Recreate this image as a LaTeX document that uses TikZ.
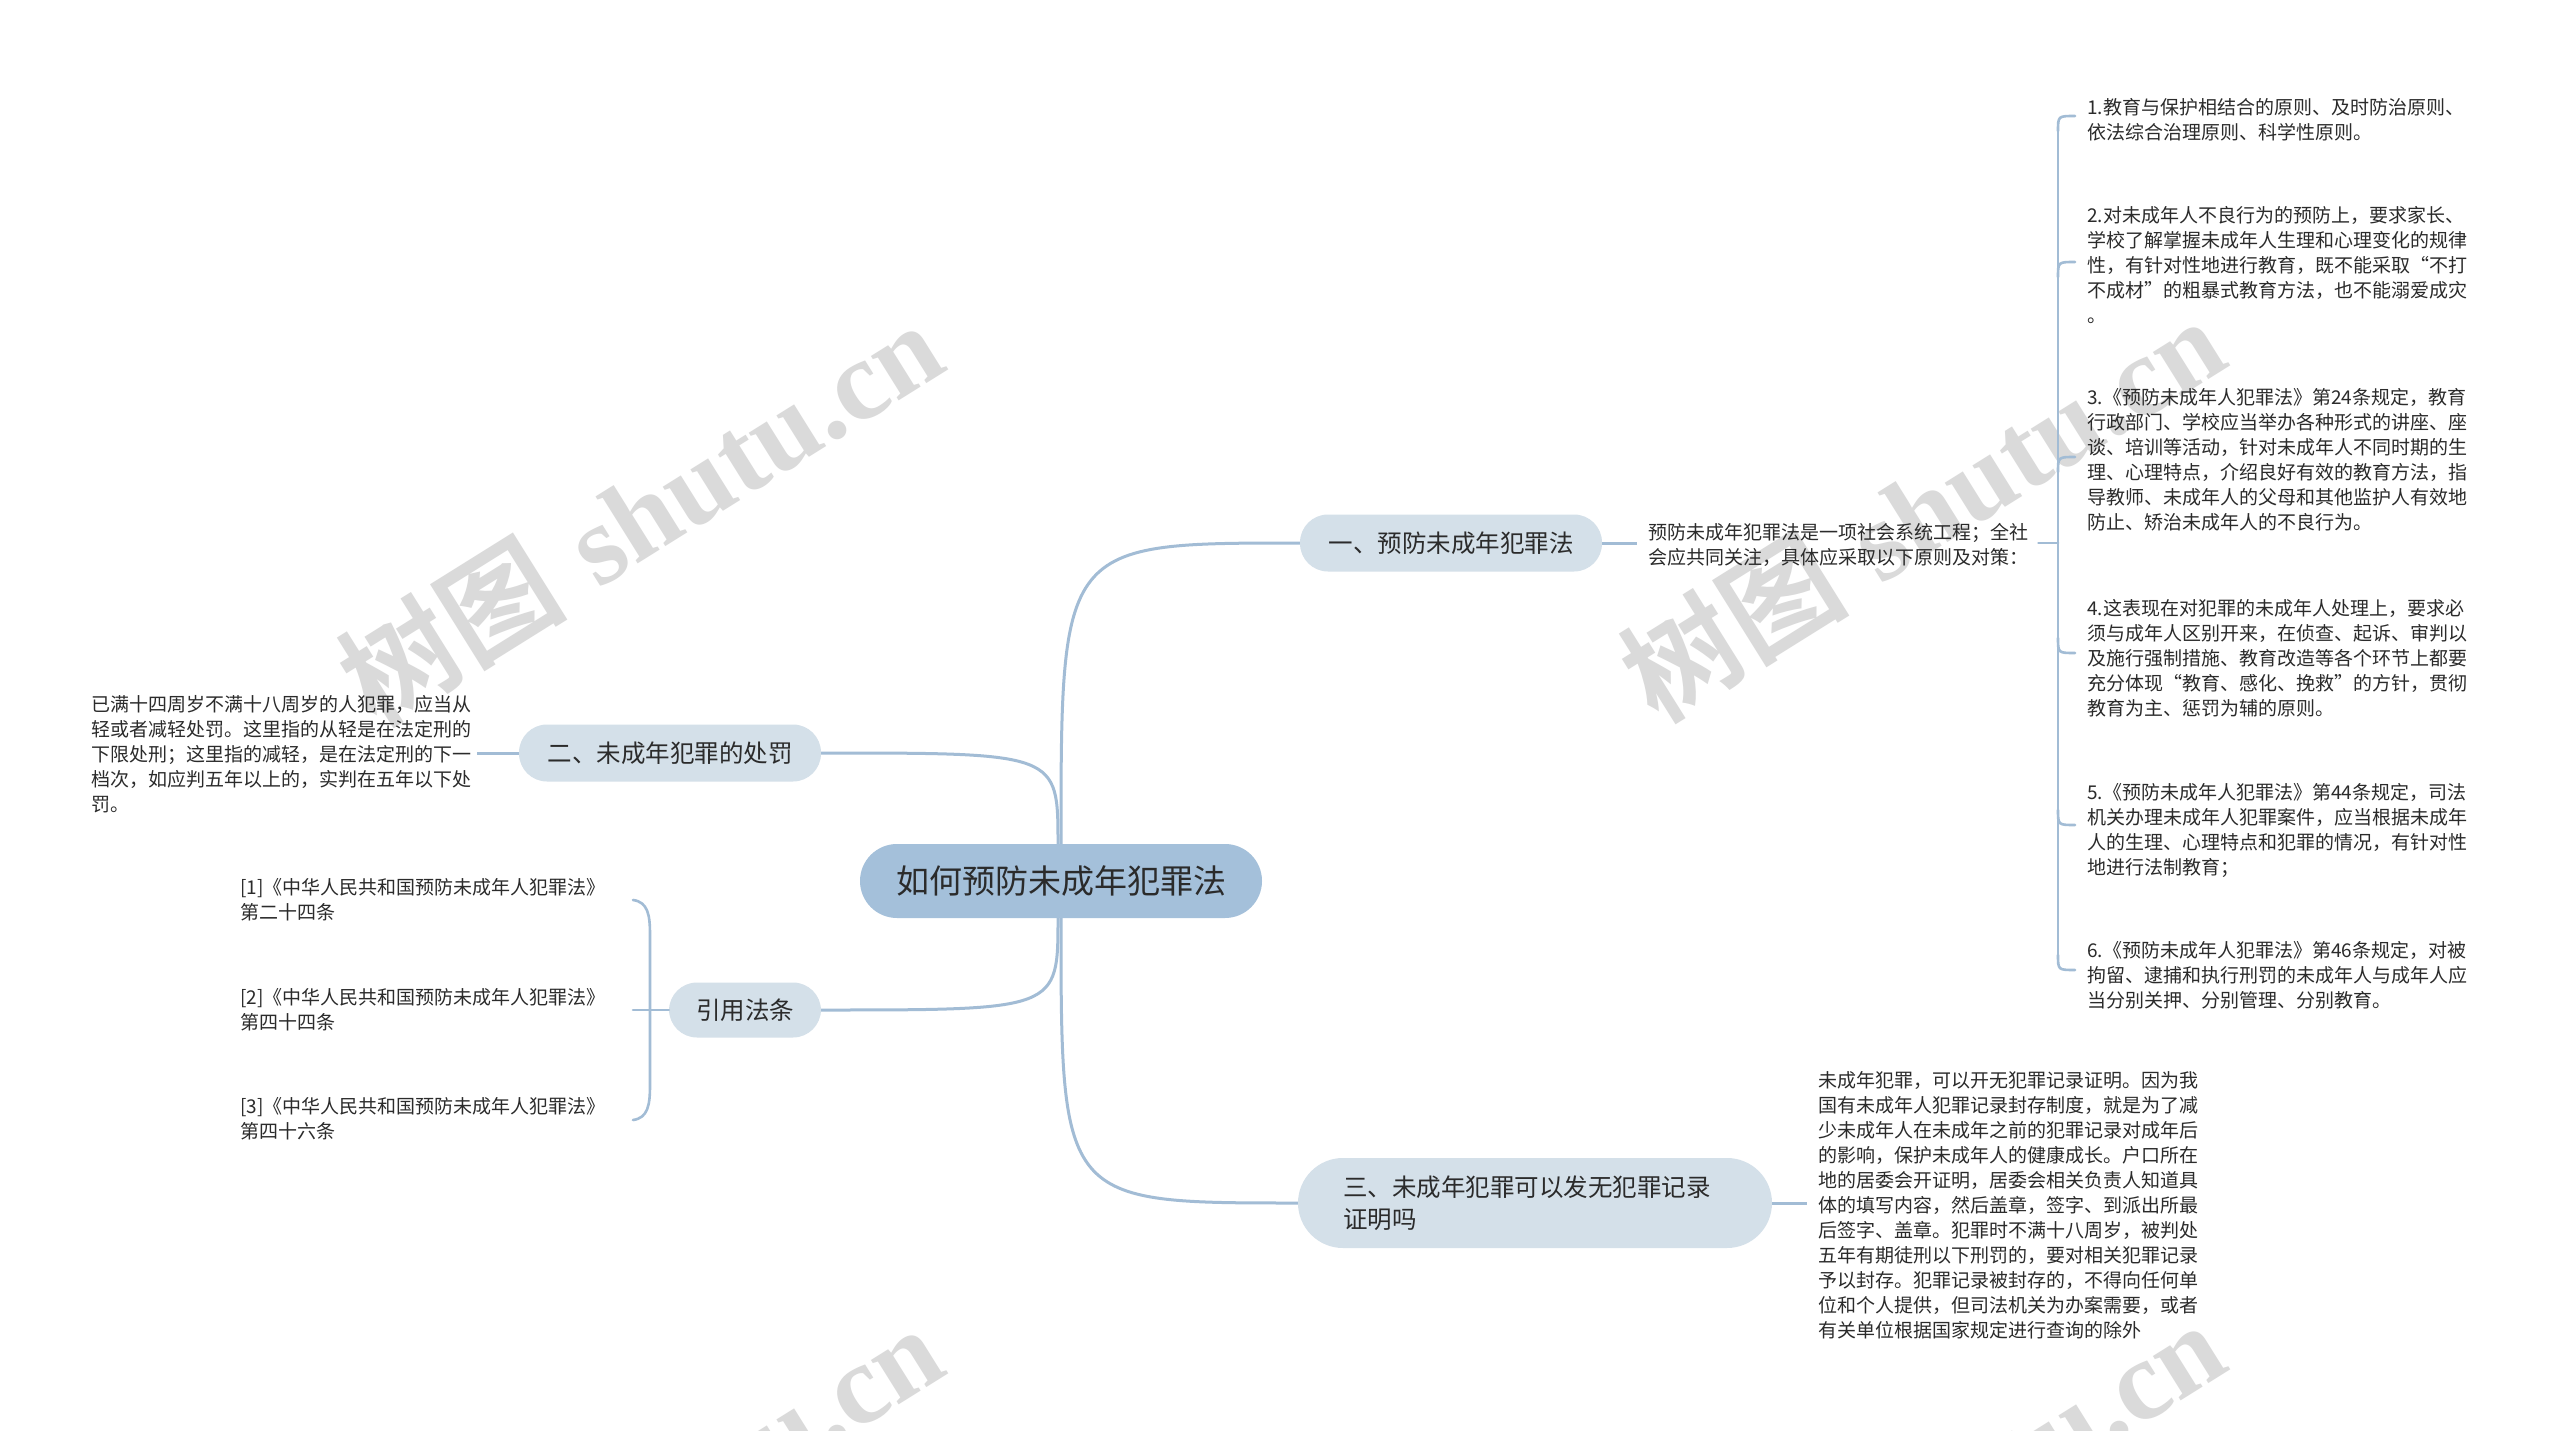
\documentclass[tikz,border=0pt]{standalone}
\usepackage{fontspec}
\newfontfamily\cjk{Noto Sans CJK SC}
\newfontfamily\wmcjk{Noto Sans CJK SC Bold}
\newfontfamily\wmserif{Liberation Serif}
\definecolor{linec}{HTML}{A2BCD5}
\definecolor{rootc}{HTML}{A4C0DA}
\definecolor{brc}{HTML}{D4E0E9}
\definecolor{txt}{HTML}{2B2B2B}
\definecolor{wmc}{HTML}{DADADA}
\tikzset{
  conn/.style={draw=linec, line width=3pt},
  brk/.style={draw=linec, line width=2.6pt, line cap=round},
  rootbox/.style={fill=rootc, rounded corners=37pt, minimum width=402pt, minimum height=74pt, inner sep=0pt, text=txt, font=\cjk\fontsize{33}{40}\selectfont},
  branchbox/.style={fill=brc, rounded corners=28pt, minimum height=57pt, inner sep=0pt, text=txt, font=\cjk\fontsize{24.5}{32}\selectfont},
  leaf/.style={anchor=west, align=left, inner sep=0pt, text=txt, font=\cjk\fontsize{19}{25}\selectfont},
  wm/.style={text=wmc, rotate=32, inner sep=0pt, font=\fontsize{114}{130}\selectfont},
}
\begin{document}
\begin{tikzpicture}[x=1pt, y=-1pt]
\useasboundingbox (0,0) rectangle (2560,1431);
\fill[white] (0,0) rectangle (2560,1431);
% watermarks
\begin{scope}
\clip (0,0) rectangle (2560,1431);
\node[wm] (wm1) at (640,512) {{\wmcjk 树图} {\wmserif\bfseries shutu.cn}};
\node[wm] (wm2) at (1922,508) {{\wmcjk 树图} {\wmserif\bfseries shutu.cn}};
\node[wm] (wm3) at (640,1516) {{\wmcjk 树图} {\wmserif\bfseries shutu.cn}};
\node[wm] (wm4) at (1922,1512) {{\wmcjk 树图} {\wmserif\bfseries shutu.cn}};
\end{scope}

% main nodes
\node[rootbox] (root) at (1061,881) {如何预防未成年犯罪法};
\node[branchbox, minimum width=302pt] (b1) at (1451,543) {一、预防未成年犯罪法};
\node[branchbox, minimum width=302pt] (b2) at (670,753) {二、未成年犯罪的处罚};
\node[branchbox, minimum width=152pt, minimum height=55pt] (b4) at (745,1010) {引用法条};
\node[branchbox, minimum width=474pt, minimum height=90pt, rounded corners=45pt, align=left, text width=384pt] (b3) at (1535,1203) {三、未成年犯罪可以发无犯罪记录\\证明吗};

% root connectors
\draw[conn] (root.north) .. controls (root.north |- b1.west) .. (b1.west);
\draw[conn] ([xshift=-3pt]root.north) .. controls ([xshift=-3pt]root.north |- b2.east) .. (b2.east);
\draw[conn] ([xshift=-3pt]root.south) .. controls ([xshift=-3pt]root.south |- b4.east) .. (b4.east);
\draw[conn] (root.south) .. controls (root.south |- b3.west) .. (b3.west);

% branch 1
\node[leaf] (t1) at (1648,545) {预防未成年犯罪法是一项社会系统工程；全社\\会应共同关注，具体应采取以下原则及对策：};
\draw[conn] (b1.east) -- ([xshift=-11pt,yshift=2pt]t1.west);
\coordinate (rb) at (2058,543);
\draw[brk] ([xshift=10pt,yshift=2pt]t1.east) -- (rb);

\node[leaf] (i1) at (2087,120) {1.教育与保护相结合的原则、及时防治原则、\\依法综合治理原则、科学性原则。};
\node[leaf] (i2) at (2087,265) {2.对未成年人不良行为的预防上，要求家长、\\学校了解掌握未成年人生理和心理变化的规律\\性，有针对性地进行教育，既不能采取“不打\\不成材”的粗暴式教育方法，也不能溺爱成灾\\。};
\node[leaf] (i3) at (2087,460) {3.《预防未成年人犯罪法》第24条规定，教育\\行政部门、学校应当举办各种形式的讲座、座\\谈、培训等活动，针对未成年人不同时期的生\\理、心理特点，介绍良好有效的教育方法，指\\导教师、未成年人的父母和其他监护人有效地\\防止、矫治未成年人的不良行为。};
\node[leaf] (i4) at (2087,658) {4.这表现在对犯罪的未成年人处理上，要求必\\须与成年人区别开来，在侦查、起诉、审判以\\及施行强制措施、教育改造等各个环节上都要\\充分体现“教育、感化、挽救”的方针，贯彻\\教育为主、惩罚为辅的原则。};
\node[leaf] (i5) at (2087,830) {5.《预防未成年人犯罪法》第44条规定，司法\\机关办理未成年人犯罪案件，应当根据未成年\\人的生理、心理特点和犯罪的情况，有针对性\\地进行法制教育；};
\node[leaf] (i6) at (2087,975) {6.《预防未成年人犯罪法》第46条规定，对被\\拘留、逮捕和执行刑罚的未成年人与成年人应\\当分别关押、分别管理、分别教育。};

\draw[brk] (2058,131) -- (2058,955);
\draw[brk] (2058,131) .. controls (2058,116) .. ([xshift=-12pt,yshift=4pt]i1.west);
\draw[brk] (2058,277) .. controls (2058,262) .. ([xshift=-12pt,yshift=3pt]i2.west);
\draw[brk] (2058,472) .. controls (2058,457) .. ([xshift=-12pt,yshift=3pt]i3.west);
\draw[brk] (2058,638) .. controls (2058,653) .. ([xshift=-12pt,yshift=5pt]i4.west);
\draw[brk] (2058,810) .. controls (2058,825) .. ([xshift=-12pt,yshift=5pt]i5.west);
\draw[brk] (2058,955) .. controls (2058,970) .. ([xshift=-12pt,yshift=5pt]i6.west);

% branch 2
\node[leaf] (t2) at (91,754) {已满十四周岁不满十八周岁的人犯罪，应当从\\轻或者减轻处罚。这里指的从轻是在法定刑的\\下限处刑；这里指的减轻，是在法定刑的下一\\档次，如应判五年以上的，实判在五年以下处\\罚。};
\draw[conn] (b2.west) -- ([xshift=6pt]t2.east |- b2.west);

% references
\node[leaf] (r1) at (240,900) {[1]《中华人民共和国预防未成年人犯罪法》\\第二十四条};
\node[leaf] (r2) at (240,1010) {[2]《中华人民共和国预防未成年人犯罪法》\\第四十四条};
\node[leaf] (r3) at (240,1119) {[3]《中华人民共和国预防未成年人犯罪法》\\第四十六条};
\coordinate (lb1) at (633,900);
\coordinate (lb2) at (633,1010);
\coordinate (lb3) at (633,1120);
\draw[brk] (lb1) .. controls (648,902) and (650,915) .. (650,935) -- (650,1085) .. controls (650,1105) and (648,1118) .. (lb3);
\draw[brk] (b4.west) -- (lb2);

% branch 3
\node[leaf] (t3) at (1818,1205) {未成年犯罪，可以开无犯罪记录证明。因为我\\国有未成年人犯罪记录封存制度，就是为了减\\少未成年人在未成年之前的犯罪记录对成年后\\的影响，保护未成年人的健康成长。户口所在\\地的居委会开证明，居委会相关负责人知道具\\体的填写内容，然后盖章，签字、到派出所最\\后签字、盖章。犯罪时不满十八周岁，被判处\\五年有期徒刑以下刑罚的，要对相关犯罪记录\\予以封存。犯罪记录被封存的，不得向任何单\\位和个人提供，但司法机关为办案需要，或者\\有关单位根据国家规定进行查询的除外};
\draw[conn] (b3.east) -- ([xshift=-11pt]t3.west |- b3.east);
\end{tikzpicture}
\end{document}
